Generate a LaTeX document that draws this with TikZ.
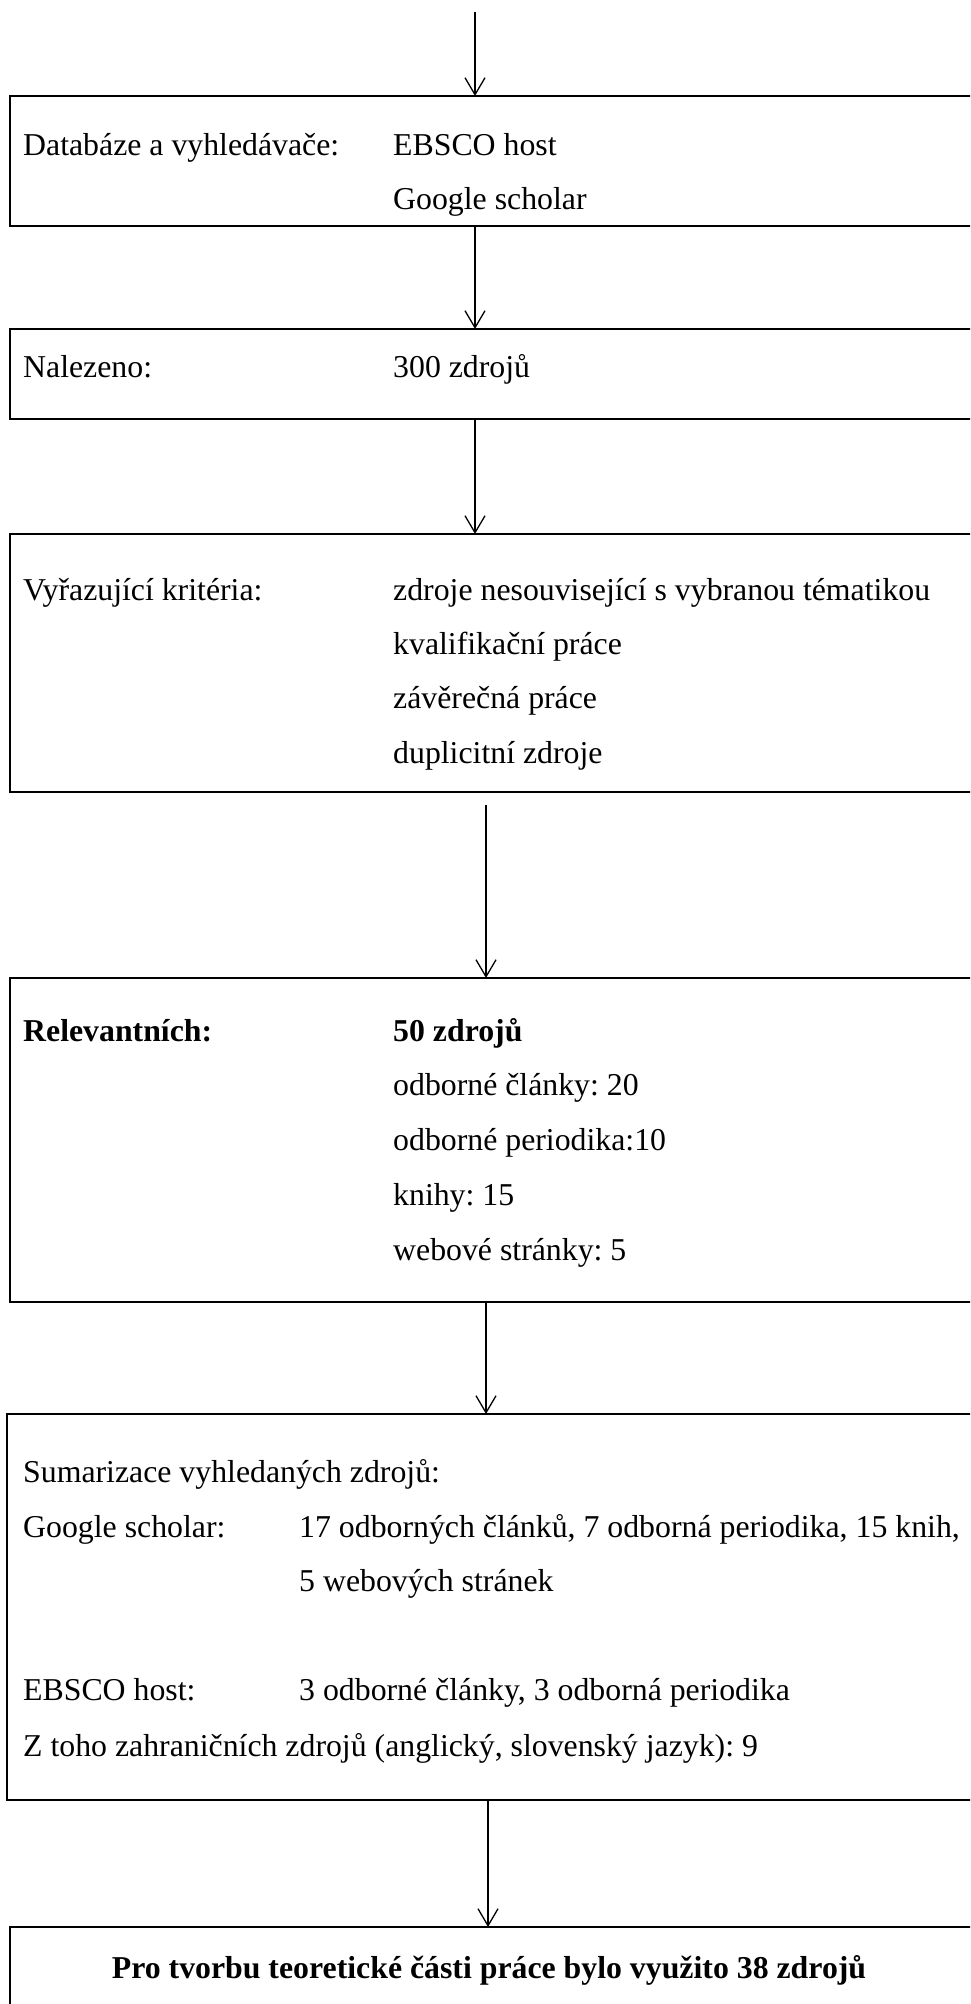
\documentclass[tikz,border=0pt]{standalone}
\usepackage{fontspec}
\setmainfont{Liberation Serif}
\frenchspacing
\usetikzlibrary{arrows.meta,calc}
\tikzset{
  boxst/.style={draw=black, line width=2pt, rectangle, inner sep=0pt, outer sep=0pt, anchor=north west, minimum width=980pt},
  txt/.style={anchor=base west, inner sep=0pt, font=\fontsize{31.8}{38}\selectfont},
  ctxt/.style={anchor=base, inner sep=0pt, font=\fontsize{31.8}{38}\selectfont\bfseries},
  arr/.style={line width=1.3pt, -{Straight Barb[length=17pt, width=20pt, line width=1.3pt]}},
}
\begin{document}
\begin{tikzpicture}[x=1pt,y=-1pt]
\useasboundingbox (0,0) rectangle (970,2004);
\clip (0,0) rectangle (970,2004);
% boxes
\node[boxst, minimum height=130pt] (b1) at (10,96) {};
\node[boxst, minimum height=90pt]  (b2) at (10,329) {};
\node[boxst, minimum height=258pt] (b3) at (10,534) {};
\node[boxst, minimum height=324pt] (b4) at (10,978) {};
\node[boxst, minimum height=386pt] (b5) at (7,1414) {};
\node[boxst, minimum height=100pt] (b6) at (10,1927) {};
% helper coordinates
\coordinate (top) at (475,12);
\coordinate (cA) at (475,0);
\coordinate (cB) at (486,0);
\coordinate (cC) at (488,0);
\coordinate (a4s) at ($(b3.south -| cB)+(0,13)$);
% arrows
\draw[arr] (top) -- (top |- b1.north);
\draw[arr] (b1.south -| cA) -- (b2.north -| cA);
\draw[arr] (b2.south -| cA) -- (b3.north -| cA);
\draw[arr] (a4s) -- (b4.north -| cB);
\draw[arr] (b4.south -| cB) -- (b5.north -| cB);
\draw[arr] (b5.south -| cC) -- (b6.north -| cC);
% box 1
\node[txt] (l1) at (23,156) {Databáze a vyhledávače:};
\node[txt] (v1a) at (393,156) {EBSCO host};
\node[txt] (v1b) at (393,210) {Google scholar};
% box 2
\node[txt] (l2) at (23,377) {Nalezeno:};
\node[txt] (v2) at (393,377) {300 zdrojů};
% box 3
\node[txt] (l3) at (23,600) {Vyřazující kritéria:};
\node[txt] (v3a) at (393,600) {zdroje nesouvisející s vybranou tématikou};
\node[txt] (v3b) at (393,654) {kvalifikační práce};
\node[txt] (v3c) at (393,708) {závěrečná práce};
\node[txt] (v3d) at (393,763) {duplicitní zdroje};
% box 4
\node[txt] (l4) at (23,1041) {\bfseries Relevantních:};
\node[txt] (v4a) at (393,1041) {\bfseries 50 zdrojů};
\node[txt] (v4b) at (393,1095) {odborné články: 20};
\node[txt] (v4c) at (393,1150) {odborné periodika:10};
\node[txt] (v4d) at (393,1205) {knihy: 15};
\node[txt] (v4e) at (393,1260) {webové stránky: 5};
% box 5
\node[txt] (l5a) at (23,1482) {Sumarizace vyhledaných zdrojů:};
\node[txt] (l5b) at (23,1537) {Google scholar:};
\node[txt] (v5a) at (299,1537) {17 odborných článků, 7 odborná periodika, 15 knih,};
\node[txt] (v5b) at (299,1591) {5 webových stránek};
\node[txt] (l5c) at (23,1700) {EBSCO host:};
\node[txt] (v5c) at (299,1700) {3 odborné články, 3 odborná periodika};
\node[txt] (l5d) at (23,1756) {Z toho zahraničních zdrojů (anglický, slovenský jazyk): 9};
% box 6
\node[ctxt] (v6) at (489,1978) {Pro tvorbu teoretické části práce bylo využito 38 zdrojů};
\end{tikzpicture}
\end{document}
